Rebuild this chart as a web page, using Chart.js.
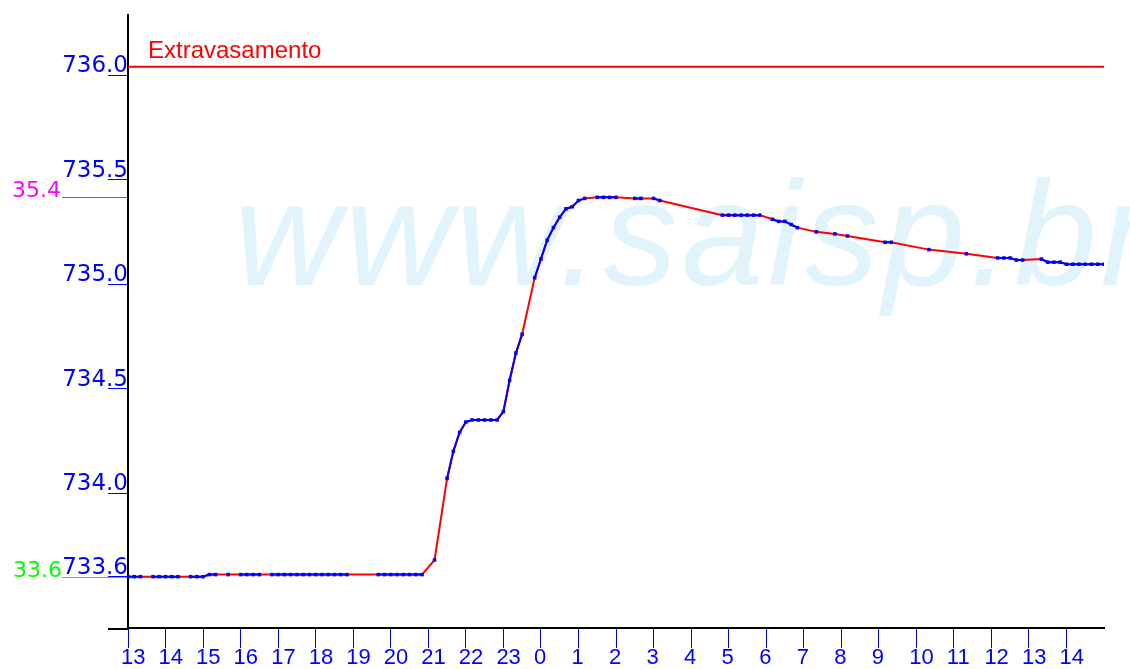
<!DOCTYPE html>
<html><head><meta charset="utf-8">
<script src="https://cdn.jsdelivr.net/npm/chart.js@4/dist/chart.umd.min.js"></script>
<style>html,body{margin:0;padding:0;background:#fff;overflow:hidden}canvas{display:block}</style>
</head><body>
<canvas id="c" width="1130" height="669"></canvas>
<script>
// hour tick labels (one every 6 samples of 10 minutes)
const hourLabels = ['13','14','15','16','17','18','19','20','21','22','23','0','1','2','3','4','5','6','7','8','9','10','11','12','13','14'];
const samplesPerHour = 6;
// y-axis tick values
const levelTicks = [733.6, 734.0, 734.5, 735.0, 735.5, 736.0];
// measured level every 10 minutes (null = missing reading)
const levels = [
  733.60, 733.60, 733.60, null, 733.60, 733.60,
  733.60, 733.60, 733.60, null, 733.60, 733.60,
  733.60, 733.61, 733.61, null, 733.61, null,
  733.61, 733.61, 733.61, 733.61, null, 733.61,
  733.61, 733.61, 733.61, 733.61, 733.61, 733.61,
  733.61, 733.61, 733.61, 733.61, 733.61, 733.61,
  null, null, null, null, 733.61, 733.61,
  733.61, 733.61, 733.61, 733.61, 733.61, 733.61,
  null, 733.68, null, 734.07, 734.20, 734.29,
  734.34, 734.35, 734.35, 734.35, 734.35, 734.35,
  734.39, 734.54, 734.67, 734.76, null, 735.03,
  735.12, 735.21, 735.27, 735.32, 735.36, 735.37,
  735.40, 735.41, null, 735.415, 735.415, 735.415,
  735.415, null, null, 735.41, 735.41, null,
  735.41, 735.40, null, null, null, null,
  null, null, null, null, null, 735.33,
  735.33, 735.33, 735.33, 735.33, 735.33, 735.33,
  null, 735.31, 735.30, 735.30, 735.285, 735.27,
  null, null, 735.25, null, null, 735.24,
  null, 735.23, null, null, null, null,
  null, 735.20, 735.20, null, null, null,
  null, null, 735.165, null, null, null,
  null, null, 735.145, null, null, null,
  null, 735.125, 735.125, 735.125, 735.115, 735.115,
  null, null, 735.12, 735.105, 735.105, 735.105,
  735.095, 735.095, 735.095, 735.095, 735.095, 735.095,
  735.095
];
const overflowLevel = 736.04;
const overflowLabel = 'Extravasamento';
const maxLevel = 735.415;
const maxLabel = '35.4';
const minLevel = 733.6;
const minLabel = '33.6';
const watermark = 'www.saisp.br';
const yMin = 733.3545, yMax = 736.2876;

const lastIndex = levels.length - 1;
const points = levels.map((v, i) => ({x: i, y: v}));

const decor = {
  id: 'decor',
  beforeDraw(chart) {
    const {ctx, chartArea: a, scales: {y}} = chart;
    ctx.save();
    ctx.font = 'italic 148px "Liberation Sans"';
    ctx.fillStyle = '#e1f4fc';
    ctx.textBaseline = 'alphabetic';
    ctx.textAlign = 'left';
    try { ctx.letterSpacing = '4px'; } catch (e) {}
    ctx.fillText(watermark, 234, 285);
    try { ctx.letterSpacing = '0px'; } catch (e) {}

    ctx.font = '22px "DejaVu Sans"';
    ctx.textAlign = 'right';
    const ym = Math.round(y.getPixelForValue(maxLevel)) + 0.5;
    ctx.strokeStyle = '#ff00ff'; ctx.lineWidth = 1;
    ctx.beginPath(); ctx.moveTo(62, ym); ctx.lineTo(a.left, ym); ctx.stroke();
    ctx.fillStyle = '#ff00ff';
    ctx.fillText(maxLabel, 61, ym - 1);

    const yn = Math.round(y.getPixelForValue(minLevel)) + 0.5;
    ctx.strokeStyle = '#00ff00';
    ctx.beginPath(); ctx.moveTo(62, yn); ctx.lineTo(a.left, yn); ctx.stroke();
    ctx.fillStyle = '#00ff00';
    ctx.fillText(minLabel, 62, yn - 1);
    ctx.restore();
  },
  afterDatasetsDraw(chart) {
    const {ctx, chartArea: a, scales: {y}} = chart;
    ctx.save();
    ctx.font = '24px "Liberation Sans"';
    ctx.fillStyle = '#ff0000';
    ctx.textAlign = 'left';
    ctx.textBaseline = 'alphabetic';
    ctx.fillText(overflowLabel, a.left + 20, y.getPixelForValue(overflowLevel) - 9);
    ctx.restore();
  },
  afterDraw(chart) {
    const {ctx, chartArea: a} = chart;
    ctx.save();
    ctx.strokeStyle = '#000'; ctx.lineWidth = 2;
    ctx.beginPath(); ctx.moveTo(108, a.bottom + 1); ctx.lineTo(a.left, a.bottom + 1); ctx.stroke();
    ctx.restore();
  }
};

new Chart(document.getElementById('c'), {
  type: 'line',
  data: {
    datasets: [
      {
        label: 'medido', data: points, order: 0,
        borderColor: '#0000ff', backgroundColor: '#0000ff', borderWidth: 2,
        pointStyle: 'rect', pointRadius: 2.5, pointBorderWidth: 0,
        spanGaps: false, tension: 0
      },
      {
        label: 'linha', data: points, order: 1,
        borderColor: '#ff0000', borderWidth: 2, pointRadius: 0,
        spanGaps: true, tension: 0
      },
      {
        label: 'extravasamento', order: 2,
        data: [{x: 0, y: overflowLevel}, {x: lastIndex, y: overflowLevel}],
        borderColor: '#ff0000', borderWidth: 2, pointRadius: 0
      }
    ]
  },
  options: {
    responsive: false, animation: false, events: [],
    devicePixelRatio: 1,
    layout: {padding: {top: 15, right: 26, left: 0, bottom: 0}},
    plugins: {legend: {display: false}, tooltip: {enabled: false}},
    scales: {
      x: {
        type: 'linear', min: 0, max: lastIndex,
        afterBuildTicks: (s) => { s.ticks = hourLabels.map((_, i) => ({value: i * samplesPerHour})); },
        afterFit: (s) => { s.height = 41; },
        border: {display: true, color: '#000', width: 2},
        grid: {drawOnChartArea: false, drawTicks: true, tickLength: 20, tickColor: '#0000ff', tickWidth: 1},
        ticks: {
          color: '#0000ff', font: {family: 'Liberation Sans', size: 22},
          align: 'start', labelOffset: -7, padding: -3, maxRotation: 0, autoSkip: false,
          callback: (v) => hourLabels[Math.round(v / samplesPerHour)]
        }
      },
      y: {
        type: 'linear', min: yMin, max: yMax,
        afterBuildTicks: (s) => { s.ticks = levelTicks.map(v => ({value: v})); },
        afterFit: (s) => { s.width = 128; },
        border: {display: true, color: '#000', width: 2},
        grid: {drawOnChartArea: false, drawTicks: true, tickLength: 20, tickColor: '#0000ff', tickWidth: 1},
        ticks: {
          color: '#0000ff', font: {family: 'DejaVu Sans', size: 23},
          padding: -20, labelOffset: -9, autoSkip: false,
          callback: (v) => Number(v).toFixed(1)
        }
      }
    }
  },
  plugins: [decor]
});
</script>
</body></html>
